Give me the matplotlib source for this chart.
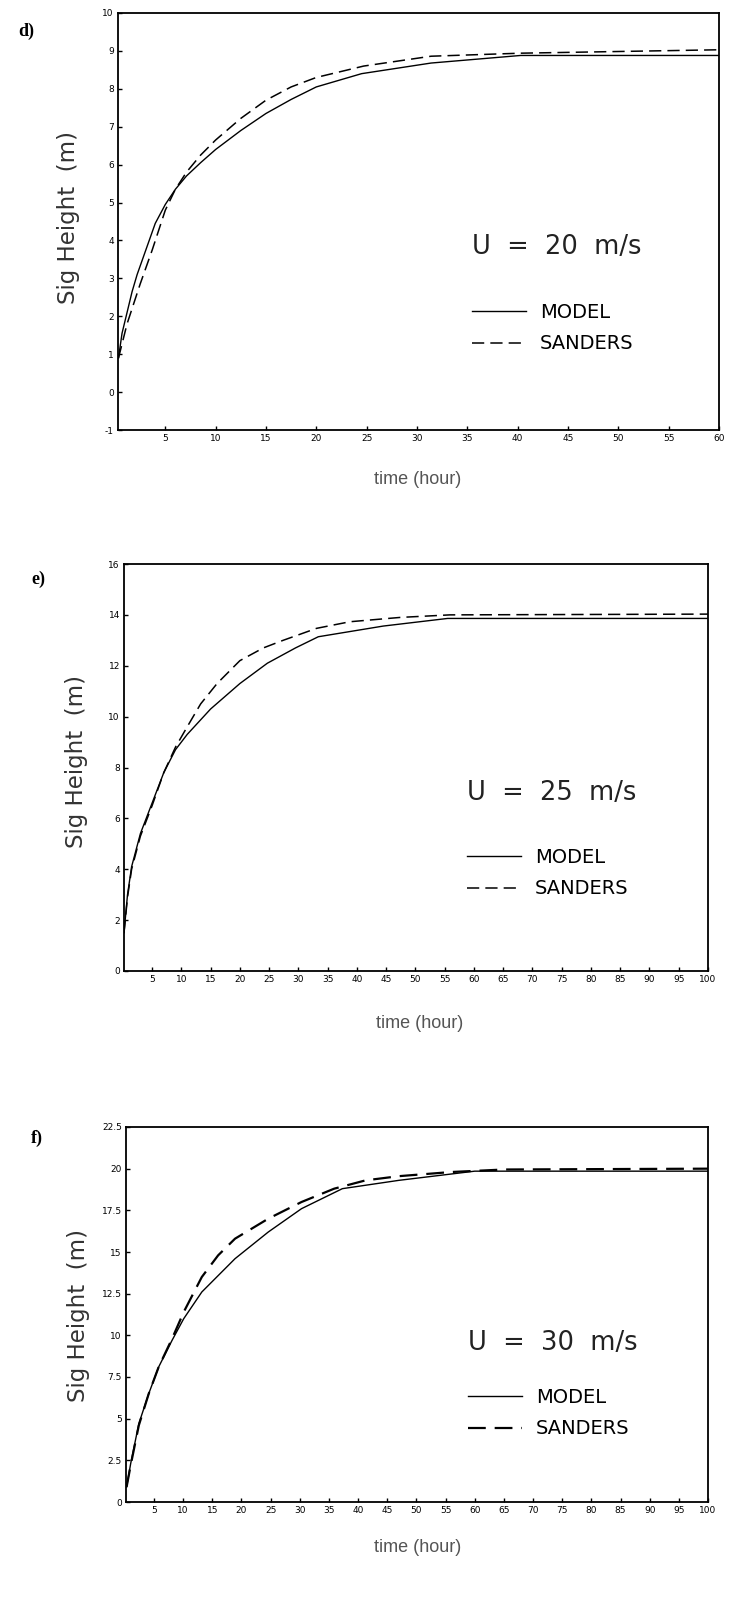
import matplotlib
matplotlib.use("Agg")
import matplotlib.pyplot as plt

# --- data (time in hours, Hs in m) ---
d_t_model = [0.35, 0.7, 1.2, 1.7, 2.2, 3.2, 4.0, 5, 6, 7.1, 8.5, 10, 12.5, 15, 17.5, 20, 24.5, 31.4, 40.3, 60]
d_model = [0.9, 1.55, 2.1, 2.65, 3.1, 3.85, 4.45, 4.95, 5.35, 5.7, 6.05, 6.4, 6.9, 7.35, 7.72, 8.05, 8.4, 8.68, 8.88, 8.88]
d_t_sanders = [0.35, 1.2, 2.5, 3.7, 5, 6, 7.1, 8.5, 10, 12.5, 15, 17.5, 20, 24.7, 31.4, 40.3, 60]
d_sanders = [0.9, 1.8, 2.85, 3.75, 4.8, 5.35, 5.8, 6.25, 6.65, 7.22, 7.7, 8.05, 8.3, 8.6, 8.86, 8.94, 9.03]

e_t_model = [0.2, 0.8, 1.5, 3, 5, 7, 9, 11, 15, 20, 24.7, 29.5, 33.4, 44.5, 55.5, 100]
e_model = [1.5, 3.0, 4.1, 5.4, 6.6, 7.8, 8.7, 9.3, 10.3, 11.3, 12.1, 12.7, 13.14, 13.56, 13.86, 13.86]
e_t_sanders = [0.2, 0.8, 1.5, 3, 5, 7, 9, 11, 13.3, 16.1, 20, 24, 27.4, 33.1, 38.8, 47.4, 55.9, 100]
e_sanders = [1.5, 2.9, 4.0, 5.3, 6.5, 7.8, 8.8, 9.6, 10.5, 11.3, 12.2, 12.7, 13.0, 13.47, 13.73, 13.9, 14.0, 14.03]

f_t_model = [0.3, 1, 2.4, 4.1, 5.8, 8.1, 10.1, 13.2, 18.9, 24.6, 30.3, 37.3, 47, 60, 100]
f_model = [0.9, 2.3, 4.7, 6.5, 8.1, 9.7, 11.0, 12.6, 14.6, 16.2, 17.6, 18.8, 19.3, 19.85, 19.85]
f_t_sanders = [0.3, 1, 2.4, 4.1, 5.8, 8.1, 10.1, 13.2, 16, 18.9, 24.6, 30.3, 35.9, 41.3, 47, 56, 65, 100]
f_sanders = [0.9, 2.2, 4.6, 6.5, 8.1, 9.8, 11.4, 13.5, 14.8, 15.8, 17.0, 18.0, 18.8, 19.3, 19.55, 19.8, 19.95, 20.0]

panel_tags = ["d)", "e)", "f)"]
wind_labels = ["U  =  20  m/s", "U  =  25  m/s", "U  =  30  m/s"]
series_names = ["MODEL", "SANDERS"]

d_xticks = list(range(5, 61, 5))
ef_xticks = list(range(5, 101, 5))
d_yticks = list(range(-1, 11))
e_yticks = list(range(0, 17, 2))
f_yticks = [0, 2.5, 5, 7.5, 10, 12.5, 15, 17.5, 20, 22.5]
f_yticklabels = ["0", "2.5", "5", "7.5", "10", "12.5", "15", "17.5", "20", "22.5"]

W, H = 730, 1599
fig = plt.figure(figsize=(W / 100, H / 100), dpi=100)


def fx(x):
    return x / W


def fy(y):
    return 1 - y / H


def add_panel(box, xlim, ylim):
    l, t, r, b = box
    ax = fig.add_axes([fx(l), fy(b), (r - l) / W, (b - t) / H])
    ax.set_xlim(*xlim)
    ax.set_ylim(*ylim)
    for s in ax.spines.values():
        s.set_linewidth(1.3)
    ax.tick_params(direction="in", length=3, width=1, labelsize=6.5, pad=3)
    return ax


panels = [
    dict(box=(118, 13, 719, 430), xlim=(0.3, 60), ylim=(-1, 10),
         xt=d_xticks, yt=d_yticks, ytl=[str(v) for v in d_yticks],
         tm=d_t_model, m=d_model, ts=d_t_sanders, s=d_sanders,
         tag=(26, 31), ylab=(68, 217), xlab=(418, 480),
         utext=(472, 247), leg=(472, 328), slw=1.1),
    dict(box=(124, 564, 708, 971), xlim=(0.2, 100), ylim=(0, 16),
         xt=ef_xticks, yt=e_yticks, ytl=[str(v) for v in e_yticks],
         tm=e_t_model, m=e_model, ts=e_t_sanders, s=e_sanders,
         tag=(38, 579), ylab=(77, 762), xlab=(420, 1023),
         utext=(467, 793), leg=(467, 873), slw=1.1),
    dict(box=(126, 1127, 708, 1502), xlim=(0.2, 100), ylim=(0, 22.5),
         xt=ef_xticks, yt=f_yticks, ytl=f_yticklabels,
         tm=f_t_model, m=f_model, ts=f_t_sanders, s=f_sanders,
         tag=(37, 1138), ylab=(78, 1315), xlab=(418, 1548),
         utext=(468, 1343), leg=(468, 1413), slw=1.6),
]

for i, p in enumerate(panels):
    ax = add_panel(p["box"], p["xlim"], p["ylim"])
    ax.set_xticks(p["xt"])
    ax.set_yticks(p["yt"])
    ax.set_yticklabels(p["ytl"])
    ax.plot(p["tm"], p["m"], color="black", lw=1.0, label=series_names[0])
    ax.plot(p["ts"], p["s"], color="black", lw=p["slw"], dashes=(8, 4),
            label=series_names[1])

    l, t, r, b = p["box"]
    ax.text((p["utext"][0] - l) / (r - l), (b - p["utext"][1]) / (b - t),
            wind_labels[i], transform=ax.transAxes, fontsize=18.5,
            ha="left", va="center", color="#222222", family="DejaVu Sans")
    ax.legend(loc="center left", frameon=False,
              bbox_to_anchor=((p["leg"][0] - l) / (r - l), (b - p["leg"][1]) / (b - t)),
              borderaxespad=0, borderpad=0, handlelength=2.8, handletextpad=0.7,
              labelspacing=0.65, prop={"family": "DejaVu Sans", "size": 14})

    fig.text(fx(p["tag"][0]), fy(p["tag"][1]), panel_tags[i], ha="center", va="center",
             fontsize=13, fontweight="bold", family="Liberation Serif")
    fig.text(fx(p["ylab"][0]), fy(p["ylab"][1]), "Sig Height  (m)", rotation=90,
             ha="center", va="center", fontsize=16.5, color="#333333", family="DejaVu Sans")
    fig.text(fx(p["xlab"][0]), fy(p["xlab"][1]), "time (hour)", ha="center", va="center",
             fontsize=13, color="#555555", family="Liberation Sans")

fig.savefig("out.png", dpi=100)
